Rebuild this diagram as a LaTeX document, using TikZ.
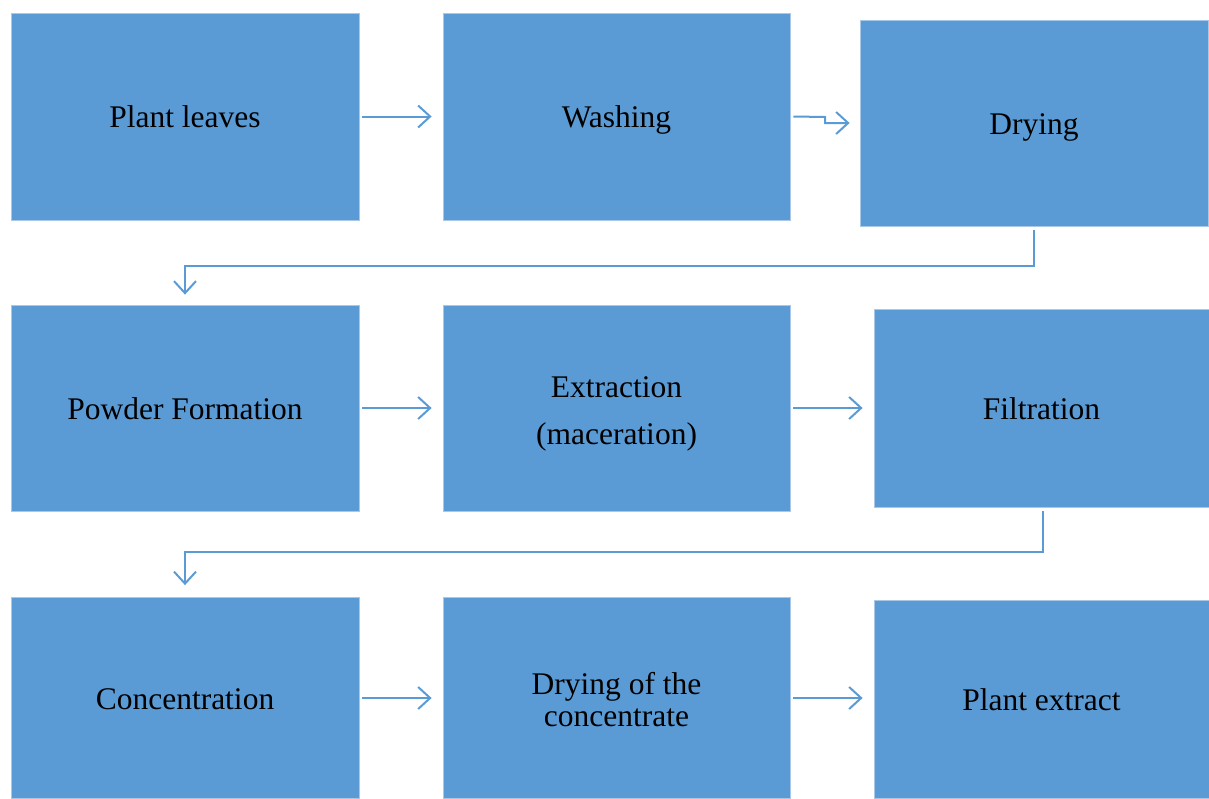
\documentclass[tikz,border=0pt]{standalone}
\usepackage{fontspec}
\setmainfont{Liberation Serif}
\usepackage{xcolor}
\usepackage{tikz}
\usetikzlibrary{arrows.meta}
\definecolor{stepblue}{HTML}{5B9BD5}
\definecolor{stepedge}{HTML}{A9C8E8}

\begin{document}
\begin{tikzpicture}[x=1pt, y=-1pt,
  stepbox/.style={fill=stepblue, draw=stepedge, line width=0.8pt,
    minimum width=348pt, minimum height=207pt, inner sep=0pt, align=center,
    font=\fontsize{31.5}{38}\selectfont},
  oneline/.style={stepbox, text height=22pt, text depth=0pt},
  flow/.style={draw=stepblue, line width=2pt,
    -{Straight Barb[length=12pt, width=22pt, line width=2pt]}}]
\useasboundingbox (0,0) rectangle (1209,798);
% first row
\node[oneline] (leaves) at (185,116.5) {Plant leaves};
\node[oneline, minimum width=347pt] (washing) at (616.5,116.5) {Washing};
\node[oneline, minimum height=206pt] (drying) at (1034,123) {Drying};
% second row
\node[oneline, minimum height=206pt] (powder) at (185,408) {Powder Formation};
\node[stepbox, minimum width=347pt, minimum height=206pt] (extract) at (616.5,408)
  {\mbox{}\\[-6pt]Extraction\\[9pt](maceration)};
\node[oneline, minimum width=335pt, minimum height=198pt] (filter) at (1041.5,408) {Filtration};
% third row
\node[oneline, minimum height=201pt] (concentr) at (185,698) {Concentration};
\node[stepbox, minimum width=347pt, minimum height=201pt] (drycon) at (616.5,698)
  {\mbox{}\\[-12pt]Drying of the\\[-6pt]concentrate};
\node[oneline, minimum width=335pt, minimum height=198pt] (product) at (1041.5,699) {Plant extract};
% connectors
\coordinate (jog) at (825,117);
\draw[flow] ([xshift=3pt]leaves.east) -- ([xshift=-11pt]washing.west);
\draw[flow] ([xshift=3pt]washing.east) -- (jog) -- (825,123) -- ([xshift=-10pt]drying.west);
\draw[flow] ([yshift=-4pt]drying.south) -- (1034,266) -| ([yshift=10pt]powder.north);
\draw[flow] ([xshift=3pt]powder.east) -- ([xshift=-11pt]extract.west);
\draw[flow] ([xshift=3pt]extract.east) -- ([xshift=-11pt]filter.west);
\draw[flow] ([xshift=1.5pt,yshift=-4pt]filter.south) -- (1043,552) -| ([yshift=12pt]concentr.north);
\draw[flow] ([xshift=3pt]concentr.east) -- ([xshift=-11pt]drycon.west);
\draw[flow] ([xshift=3pt]drycon.east) -- ([xshift=-11pt]drycon.east -| product.west);
\end{tikzpicture}
\end{document}
